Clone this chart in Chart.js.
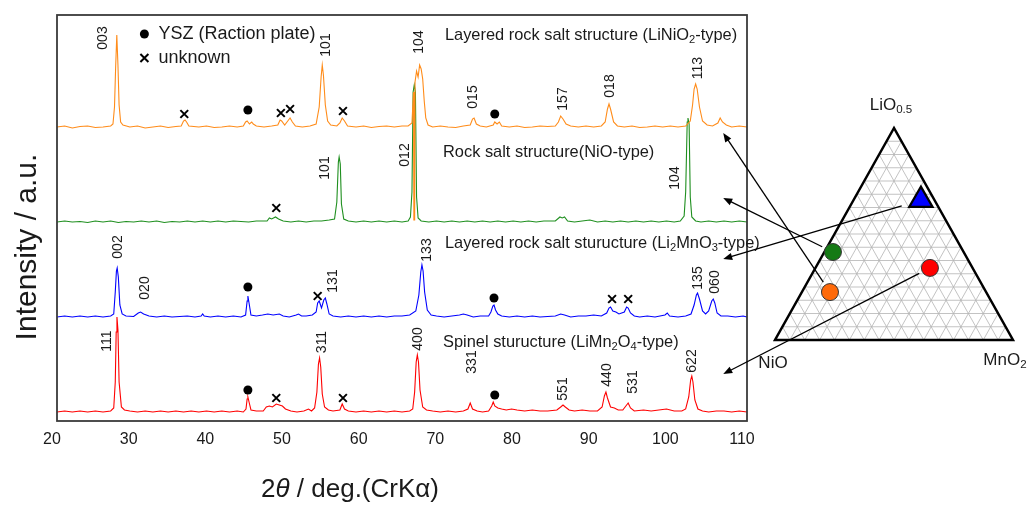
<!DOCTYPE html>
<html><head><meta charset="utf-8">
<script src="https://cdn.jsdelivr.net/npm/chart.js@4.4.1/dist/chart.umd.min.js"></script>
<style>
html,body{margin:0;padding:0;background:#fff;width:1029px;height:506px;overflow:hidden}
#wrap{position:relative;width:1029px;height:506px}
canvas{position:absolute;left:0;top:0}
#tern{pointer-events:none}
</style></head>
<body><div id="wrap"><canvas id="xrd" width="1029" height="506"></canvas><canvas id="tern" width="1029" height="506"></canvas></div>
<script>
// ---------- DATA ----------
const xTicks = [20,30,40,50,60,70,80,90,100,110];
const traceNames = ['LiNiO2-type','NiO-type','Li2MnO3-type','LiMn2O4-type'];
const traceOffsets = [294,199,104,9];
const orangeTrace = [
[20,0],[21,1],[22,-1],[23,0.5],[24,1],[25,-0.5],[26,0],[27,1],[27.3,3],[27.5,20],[27.65,60],[27.8,92],[27.95,62],[28.1,22],[28.3,5],[28.6,2],[29.5,0],[30.5,1],[31.5,-1],[32.5,0],[33.5,1],[34.5,-0.5],[35.5,0.5],[36.2,1],[36.5,6],[36.7,7],[36.9,5],[37.2,1],[38.5,0],[39.5,1],[40.5,-0.5],[41.5,0],[42.5,1],[43.5,0],[44.3,1],[44.6,5],[44.8,6],[45.1,3],[45.4,5],[45.6,3],[46,1],[47,0],[48,1],[48.8,2],[49.1,7],[49.3,6],[49.7,2],[50.1,6],[50.4,9],[50.7,5],[51.1,1],[52,0],[53,1],[53.8,3],[54.2,20],[54.45,50],[54.6,62],[54.75,52],[55,22],[55.3,6],[55.7,2],[56.5,1],[56.9,4],[57.2,9],[57.5,6],[57.9,1],[59,0],[60,1],[61,-0.5],[62,0.5],[63,1],[64,0],[65,1],[65.8,1],[66.3,4],[66.5,35],[66.55,-93],[66.65,-93],[66.7,45],[66.9,56],[67.1,50],[67.3,62],[67.5,58],[67.7,48],[67.9,26],[68.1,9],[68.4,2],[69,0],[70,1],[71,0],[72,-0.5],[73,1],[73.9,2],[74.2,8],[74.4,9],[74.7,3],[75.2,1],[76,0],[76.9,2],[77.1,5],[77.4,3],[77.7,5],[78,1],[79,0],[80,1],[81,-0.5],[82,0],[83,1],[84,0.5],[85,1],[85.4,5],[85.7,11],[86,8],[86.4,3],[87,1],[88,0],[89,1],[90,0],[91,1],[91.5,5],[91.8,18],[92,23],[92.2,18],[92.6,5],[93.1,1],[94,0],[95,1],[96,-0.5],[97,0],[98,1],[99,0],[100,1],[101,0],[102,1],[102.6,6],[102.9,22],[103.1,38],[103.3,43],[103.5,38],[103.8,20],[104.2,6],[104.8,2],[105.5,1],[106.2,4],[106.5,9],[106.8,5],[107.3,2],[108,0],[109,1],[110,0]];
const greenTrace = [
[20,0],[21,1],[22,0],[23,0.5],[24,-0.5],[25,1],[26,0],[27,1],[28,-0.5],[29,0.5],[30,0],[31,1],[32,0],[33,1],[34,-0.5],[35,0.5],[36,0],[37,1],[38,0],[39,1],[40,0],[41,1],[42,0],[43,1],[44,0.5],[45,0],[46,1],[47.4,1],[47.7,4],[48,3],[48.5,5],[48.9,3],[49.5,1],[50.5,0],[51.5,1],[52.5,0],[53.5,1],[54.5,1],[55.5,2],[56.2,3],[56.5,20],[56.7,60],[56.8,65],[56.95,58],[57.1,18],[57.4,3],[58,1],[59,0],[60,1],[61,0],[62,1],[63,0],[64,1],[65,0],[65.8,1],[66.1,5],[66.3,30],[66.45,130],[66.6,137],[66.75,130],[66.9,25],[67.1,4],[67.5,1],[68.5,0],[69.5,1],[70.5,0],[71.5,1],[72.5,0],[73.5,1],[74.5,0],[75.5,1],[76.5,0],[77.5,1],[78.5,0],[79.5,1],[80.5,0],[81.5,1],[82.5,0],[83.5,1],[85,1],[85.6,5],[85.9,4],[86.2,5],[86.6,1],[87.5,0],[88.5,1],[89.5,2],[90.5,0],[91.5,1],[92.5,0],[93.5,1],[94.5,0],[95.5,1],[96.5,0],[97.5,1],[98.5,0],[99.5,1],[100.5,0],[101.3,1],[101.8,6],[102.0,30],[102.2,100],[102.3,104],[102.45,98],[102.6,25],[102.8,5],[103.3,1],[104,0],[105,1],[106,0],[107,1],[108,0],[109,1],[110,0]];
const blueTrace = [
[20,0],[21,1],[22,0],[23,1],[24,0],[25,1],[26,0],[27,1],[27.4,3],[27.6,25],[27.75,46],[27.85,49],[28.0,40],[28.2,12],[28.5,3],[29,1],[30,0.5],[30.6,4],[30.9,5],[31.3,3],[32,1],[33,0],[34,1],[35,0],[36,0.5],[37,1],[38,0],[38.8,1],[39,3],[39.2,1],[40,0],[41,1],[42,0],[43,1],[44,0],[44.6,2],[44.8,16],[44.9,21],[45.05,14],[45.3,2],[46,1],[46.8,2],[47.5,3],[48.2,2],[49,3],[49.5,1],[50.3,0],[51.2,2],[51.5,3],[51.9,1],[52.5,1],[53.3,2],[53.8,5],[54.0,14],[54.2,16],[54.5,9],[54.8,17],[55.0,19],[55.2,13],[55.5,3],[56,1],[57,0],[58,1],[59,0],[60,1],[61,0],[62,1],[63,0],[64,1],[65,1],[66,2],[66.8,6],[67.2,22],[67.45,45],[67.6,52],[67.75,46],[67.95,25],[68.3,7],[68.8,2],[69.5,1],[70.5,0],[71.5,1],[72.5,2],[73,3],[73.5,2],[74.3,0],[75.2,1],[76.3,1],[76.6,5],[76.85,11],[77.0,12],[77.2,7],[77.5,3],[78,1],[79,0],[80,1],[81,0],[82,1],[83,0],[84,0.5],[85,1],[85.7,3],[86.2,2],[87,0],[88,1],[89,1],[90,2],[91,1],[91.7,4],[92.0,9],[92.2,10],[92.5,6],[92.9,5],[93.3,3],[94.0,5],[94.3,10],[94.5,9],[94.8,4],[95.3,1],[96,0],[97,1],[98,0],[99.3,2],[99.6,4],[99.9,1],[101,0],[102,1],[102.7,3],[103.1,12],[103.4,22],[103.55,24],[103.8,18],[104.2,6],[104.6,3],[105,6],[105.4,16],[105.6,18],[105.8,14],[106.1,4],[106.6,1],[107.5,1],[108.5,0],[109.5,1],[110,0]];
const redTrace = [
[20,0],[21,1],[22,0],[23,1],[24,0],[25,1],[26,0],[27,1],[27.4,4],[27.6,30],[27.72,80],[27.82,95],[27.95,82],[28.1,30],[28.4,5],[28.8,2],[29.5,1],[30.5,0],[31.5,1],[32.5,0],[33.5,1],[34.5,0],[35.5,1],[36.5,0],[37.5,1],[38.5,0],[39.5,1],[40.5,0],[41.5,1],[42.5,0],[43.5,1],[44.3,0],[44.65,3],[44.8,13],[44.9,15],[45.05,10],[45.3,2],[46,1],[46.9,1],[47.3,5],[47.7,6],[48.1,5],[48.6,8],[49.0,7],[49.4,6],[49.8,3],[50.5,1],[51.3,0],[52.2,1],[52.8,3],[53.2,1],[53.6,4],[53.9,20],[54.1,48],[54.25,54],[54.4,45],[54.6,18],[54.9,5],[55.4,2],[56,1],[56.9,2],[57.2,8],[57.5,3],[58,1],[59,0],[60,1],[61,0],[62,1],[63,0],[64,1],[65,0],[66,1],[66.4,3],[66.65,20],[66.85,50],[67.0,57],[67.15,50],[67.35,22],[67.7,5],[68.2,2],[69,1],[70,0],[71,1],[72,0],[73,1],[73.6,3],[73.9,9],[74.2,3],[74.8,1],[75.5,0],[76.3,1],[76.7,6],[76.9,10],[77.1,6],[77.5,4],[78,3],[78.6,2],[79.3,3],[80,2],[81,1],[82,2],[83,1],[84,1],[85.2,2],[85.7,5],[86.0,7],[86.3,5],[86.8,2],[87.5,1],[88.5,2],[89.5,1],[90.5,1],[91.1,5],[91.4,16],[91.6,20],[91.8,14],[92.2,5],[92.7,4],[93.2,2],[93.8,2],[94.2,6],[94.5,9],[94.8,4],[95.3,1],[96.5,2],[97.5,1],[98.5,2],[99.5,3],[100.5,1],[101.5,1],[102,3],[102.4,15],[102.65,32],[102.8,36],[102.95,30],[103.2,12],[103.6,3],[104.2,1],[105,0],[106,1],[107,1],[108,0],[109,1],[110,0]];
// YSZ (reaction plate) markers and unknown markers: [2theta, y]
const yszMarks = [[44.9,311],[77.1,307],[44.9,134],[77.0,123],[44.9,31],[77.1,26]];
const unknownMarks = [[36.6,307],[49.2,308],[50.4,312],[57.3,310],[48.6,213],[54.0,125],[92.4,122],[94.5,122],[48.6,23],[57.3,23]];
// peak index labels: [text, 2theta, y]
const peakLabels = [
['003',26.0,383],['101',55.1,376],['104',67.2,379],['015',74.3,324],['157',86.0,322],['018',92.1,335],['113',103.6,353],
['101',55.0,253],['012',65.4,266],['104',100.6,243],
['002',28.0,174],['020',31.5,133],['131',56.0,140],['133',68.3,171],['135',103.6,143],['060',105.8,139],
['111',26.5,80],['311',54.6,79],['400',67.1,82],['331',74.1,59],['551',86.0,32],['440',91.7,46],['531',95.1,39],['622',102.8,60]];
const phaseLabels = [
[[['Layered rock salt structure (LiNiO'],['2','sub'],['-type)']],70.6,386],
[[['Rock salt structure(NiO-type)']],70.35,269],
[[['Layered rock salt sturucture (Li'],['2','sub'],['MnO'],['3','sub'],['-type)']],70.6,178],
[[['Spinel sturucture (LiMn'],['2','sub'],['O'],['4','sub'],['-type)']],70.35,79]];
// ternary compositions [LiO0.5, MnO2] (NiO = rest)
const ternSamples = ['LiNiO2-type','NiO-type','Li2MnO3-type','LiMn2O4-type'];
const ternLi = [0.226, 0.415, 0.660, 0.340];
const ternMn = [0.118, 0.036, 0.283, 0.481];
// arrow targets on the XRD panel [2theta, y]
const arrowTargets = [[106.9,288],[106.9,223],[106.9,162],[106.9,47]];

// ---------- STYLE ----------
const FF = '"Liberation Sans", Arial, Helvetica, sans-serif';
const traceColors = ['#ff8c1a','#1f8f1f','#0000ff','#ff0000'];
const markerColors = ['#ff6a0a','#157a15','#0000ff','#ff0000'];
const traces = [orangeTrace, greenTrace, blueTrace, redTrace];

function drawRich(ctx, segs, x, y, size, align){
  const parts = segs.map(s=>({t:s[0], k:s[1]||''}));
  const fontOf = p => (p.k==='it'?'italic ':'') + ((p.k==='sub')?(size*0.68):size)+'px '+FF;
  let w=0; parts.forEach(p=>{ctx.font=fontOf(p); p.w=ctx.measureText(p.t).width; w+=p.w;});
  let cx = align==='center' ? x-w/2 : x;
  ctx.textAlign='left'; ctx.textBaseline='middle';
  parts.forEach(p=>{ctx.font=fontOf(p); ctx.fillText(p.t, cx, y + (p.k==='sub'? size*0.3:0)); cx+=p.w;});
}

const xrdDecor = {
  id:'xrdDecor',
  afterDatasetsDraw(chart){
    const {ctx, chartArea:a, scales:{x,y}} = chart;
    ctx.save();
    ctx.strokeStyle='#3a3a3a'; ctx.lineWidth=1.8;
    ctx.strokeRect(a.left, a.top, a.right-a.left, a.bottom-a.top);
    ctx.fillStyle='#1a1a1a';
    // peak labels
    ctx.font='14px '+FF;
    peakLabels.forEach(([t,xv,yv])=>{
      ctx.save(); ctx.translate(x.getPixelForValue(xv), y.getPixelForValue(yv)); ctx.rotate(-Math.PI/2);
      ctx.textAlign='center'; ctx.textBaseline='middle'; ctx.fillText(t,0,0); ctx.restore();
    });
    phaseLabels.forEach(([segs,xv,yv])=>drawRich(ctx,segs,x.getPixelForValue(xv),y.getPixelForValue(yv),16.4,'left'));
    // legend
    const lx = x.getPixelForValue(31.4);
    const ly1 = y.getPixelForValue(387), ly2 = y.getPixelForValue(363);
    ctx.fillStyle='#000';
    ctx.beginPath(); ctx.arc(lx, ly1, 4.5, 0, Math.PI*2); ctx.fill();
    ctx.strokeStyle='#000'; ctx.lineWidth=2;
    ctx.beginPath(); ctx.moveTo(lx-4,ly2-4); ctx.lineTo(lx+4,ly2+4); ctx.moveTo(lx+4,ly2-4); ctx.lineTo(lx-4,ly2+4); ctx.stroke();
    ctx.fillStyle='#1a1a1a';
    drawRich(ctx,[['YSZ (Raction plate)']],lx+14,ly1,18,'left');
    drawRich(ctx,[['unknown']],lx+14,ly2,18,'left');
    // axis titles
    drawRich(ctx,[['2'],['θ','it'],[' / deg.(CrK'],['α'],[')']],350,490,26,'center');
    ctx.save(); ctx.translate(28,247); ctx.rotate(-Math.PI/2);
    drawRich(ctx,[['Intensity / a.u.']],0,0,30,'center'); ctx.restore();
    ctx.restore();
  }
};

const datasets = traces.map((tr,i)=>({
  label: traceNames[i], type:'line',
  data: tr.map(p=>({x:p[0], y:p[1]+traceOffsets[i]})),
  borderColor: traceColors[i], borderWidth:1.1, pointRadius:0, tension:0, fill:false, order: i===0?0:1
}));
datasets.push({label:'YSZ', type:'scatter', data: yszMarks.map(p=>({x:p[0],y:p[1]})), pointStyle:'circle', pointRadius:4.5, backgroundColor:'#000', borderColor:'#000', borderWidth:0, showLine:false});
datasets.push({label:'unknown', type:'scatter', data: unknownMarks.map(p=>({x:p[0],y:p[1]})), pointStyle:'crossRot', pointRadius:5.5, borderColor:'#000', borderWidth:2, showLine:false});

const xrd = new Chart(document.getElementById('xrd'), {
  type:'line',
  data:{datasets},
  options:{
    responsive:false, animation:false, events:[],
    layout:{padding:{left:57,right:282,top:15,bottom:0}},
    plugins:{legend:{display:false}, tooltip:{enabled:false}},
    scales:{
      x:{type:'linear', min:20, max:110,
         afterBuildTicks(s){ s.ticks = xTicks.map(v=>({value:v})); },
         grid:{display:false, drawTicks:false}, border:{display:false},
         ticks:{font:{family:FF,size:16}, color:'#1a1a1a', padding:9, labelOffset:-5, maxRotation:0, autoSkip:false},
         afterFit(s){ s.height = 85; }},
      y:{type:'linear', min:0, max:406, display:false}
    }
  },
  plugins:[xrdDecor]
});

// ---------- Ternary diagram ----------
const tx = (li,mn)=> mn + li/2;
const ternDecor = {
  id:'ternDecor',
  beforeDatasetsDraw(chart){
    const {ctx, scales:{x,y}} = chart;
    const P = (li,mn)=>[x.getPixelForValue(tx(li,mn)), y.getPixelForValue(li)];
    ctx.save();
    ctx.strokeStyle='#b4b4b4'; ctx.lineWidth=0.8;
    const N=16;
    ctx.beginPath();
    for(let i=1;i<N;i++){
      const f=i/N;
      let a=P(f,0), b=P(f,1-f); ctx.moveTo(a[0],a[1]); ctx.lineTo(b[0],b[1]);
      a=P(0,f); b=P(1-f,f); ctx.moveTo(a[0],a[1]); ctx.lineTo(b[0],b[1]);
      a=P(0,1-f); b=P(1-f,0); ctx.moveTo(a[0],a[1]); ctx.lineTo(b[0],b[1]);
    }
    ctx.stroke();
    ctx.strokeStyle='#000'; ctx.lineWidth=2.5; ctx.lineJoin='miter';
    const A=P(1,0), B=P(0,0), C=P(0,1);
    ctx.beginPath(); ctx.moveTo(A[0],A[1]); ctx.lineTo(B[0],B[1]); ctx.lineTo(C[0],C[1]); ctx.closePath(); ctx.stroke();
    ctx.fillStyle='#1a1a1a';
    drawRich(ctx,[['LiO'],['0.5','sub']],A[0]-3,A[1]-23,17,'center');
    drawRich(ctx,[['NiO']],B[0]-2,B[1]+23,17,'center');
    drawRich(ctx,[['MnO'],['2','sub']],C[0]-8,C[1]+20,17,'center');
    ctx.restore();
  },
  afterDatasetsDraw(chart){
    const {ctx, scales:{x,y}} = chart;
    const xs = xrd.scales.x, ys = xrd.scales.y;
    ctx.save();
    ctx.strokeStyle='#000'; ctx.fillStyle='#000'; ctx.lineWidth=1.3;
    arrowTargets.forEach((t,i)=>{
      const sx = x.getPixelForValue(tx(ternLi[i],ternMn[i])), sy = y.getPixelForValue(ternLi[i]);
      const ex = xs.getPixelForValue(t[0]), ey = ys.getPixelForValue(t[1]);
      const dx=ex-sx, dy=ey-sy, L=Math.hypot(dx,dy), ux=dx/L, uy=dy/L;
      const gap = i===2 ? 20 : 12;
      const x0 = sx+ux*gap, y0 = sy+uy*gap;
      const hl=9, hw=3.6;
      ctx.beginPath(); ctx.moveTo(x0,y0); ctx.lineTo(ex-ux*hl*0.8, ey-uy*hl*0.8); ctx.stroke();
      ctx.beginPath(); ctx.moveTo(ex,ey);
      ctx.lineTo(ex-ux*hl-uy*hw, ey-uy*hl+ux*hw);
      ctx.lineTo(ex-ux*hl+uy*hw, ey-uy*hl-ux*hw); ctx.closePath(); ctx.fill();
    });
    ctx.restore();
  }
};
const ternSets = ternSamples.map((n,i)=>({
  label:n, data:[{x:tx(ternLi[i],ternMn[i]), y:ternLi[i]}],
  pointStyle: i===2 ? 'triangle' : 'circle',
  pointRadius: i===2 ? 13.5 : 8.5,
  backgroundColor: markerColors[i],
  borderColor: i===2 ? '#000' : '#333',
  borderWidth: i===2 ? 2.2 : 1, clip:false
}));
new Chart(document.getElementById('tern'), {
  type:'scatter',
  data:{datasets:ternSets},
  options:{
    responsive:false, animation:false, events:[],
    layout:{padding:{left:775,right:16,top:128,bottom:166}},
    plugins:{legend:{display:false}, tooltip:{enabled:false}},
    scales:{x:{type:'linear',min:0,max:1,display:false}, y:{type:'linear',min:0,max:1,display:false}}
  },
  plugins:[ternDecor]
});
</script>
</body></html>
